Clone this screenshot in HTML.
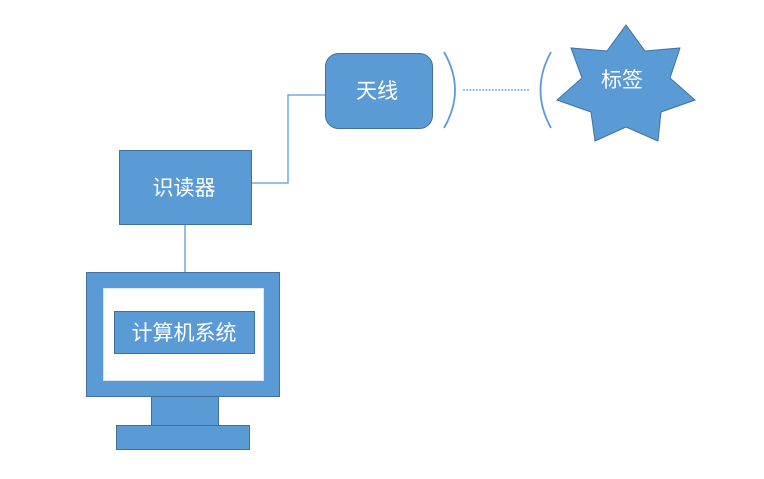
<!DOCTYPE html>
<html><head><meta charset="utf-8"><style>
html,body{margin:0;padding:0;background:#fff;width:764px;height:479px;overflow:hidden}
</style></head><body>
<svg width="764" height="479" xmlns="http://www.w3.org/2000/svg" font-family="'Liberation Sans','Noto Sans CJK SC',sans-serif">
<g fill="none" stroke="#5b9bd5" stroke-width="1.3">
<polyline points="251,183 288,183 288,95 325,95"/>
<line x1="185" y1="224" x2="185" y2="272"/>
<line x1="463" y1="90" x2="529" y2="90" stroke-dasharray="2,1.2"/>
<path d="M444,52 Q466,90 444,128" stroke-width="1.8"/>
<path d="M551,52 Q530,90 551,128" stroke-width="1.8"/>
</g>
<g fill="#5b9bd5" stroke="#41719c" stroke-width="1">
<rect x="119.5" y="150.5" width="132" height="74"/>
<rect x="325.5" y="53.5" width="107" height="75" rx="13"/>
<polygon points="626,25 645,51 680,48 670,78 695,100 661,112 658,141 626,127 595,141 591,112 557,100 582,78 571,48 607,51"/>
<rect x="86.5" y="272.5" width="193" height="124"/>
<rect x="151.5" y="396.5" width="67" height="29"/>
<rect x="116.5" y="425.5" width="133" height="24"/>
</g>
<rect x="103.5" y="288.5" width="160" height="92" fill="#fff" stroke="#dde6ef"/>
<rect x="114.5" y="311.5" width="140" height="42" fill="#5b9bd5" stroke="#41719c"/>
<g fill="#fff" font-size="21" text-anchor="middle">
<text x="184" y="195">识读器</text>
<text x="377" y="98">天线</text>
<text x="622" y="87">标签</text>
<text x="184" y="340">计算机系统</text>
</g>
</svg>
</body></html>
